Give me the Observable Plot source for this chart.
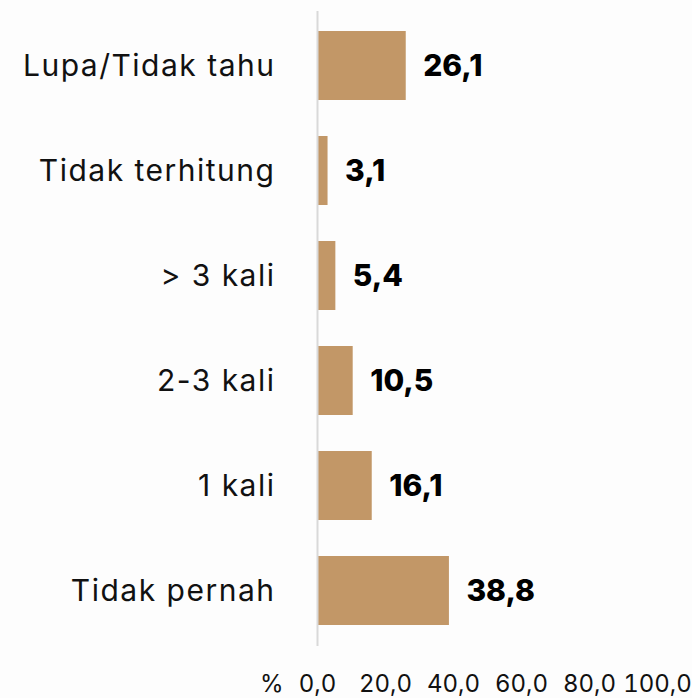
<!DOCTYPE html>
<html>
<head>
<meta charset="utf-8">
<script src="https://cdn.jsdelivr.net/npm/d3@7"></script>
<script src="https://cdn.jsdelivr.net/npm/@observablehq/plot@0.6"></script>
<style>
  html, body { margin: 0; padding: 0; background: #fdfdfd; }
  #chart svg { display: block; background: #fdfdfd; }
  #chart svg g[aria-label="y-axis tick label"] text { letter-spacing: 1.5px; }
</style>
</head>
<body>
<div id="chart"></div>
<script>
const categories = ["Lupa/Tidak tahu", "Tidak terhitung", "> 3 kali", "2-3 kali", "1 kali", "Tidak pernah"];
const values = [26.1, 3.1, 5.4, 10.5, 16.1, 38.8];
const xTicks = [0, 20, 40, 60, 80, 100];
const unitLabel = "%";

const data = categories.map((c, i) => ({category: c, value: values[i]}));
const fmt = d => d.toFixed(1).replace(".", ",");
const font = "Inter, 'Open Sans', sans-serif";

const chart = Plot.plot({
  width: 692,
  height: 698,
  marginLeft: 317,
  marginRight: 35,
  marginTop: 11,
  marginBottom: 52,
  style: {fontFamily: font, color: "#111", background: "#fdfdfd"},
  x: {domain: [0, 100], ticks: xTicks},
  y: {domain: categories, paddingInner: 0.34, paddingOuter: 0.17},
  marks: [
    Plot.barX(data, {x: "value", y: "category", fill: "#C29767"}),
    Plot.ruleX([0], {stroke: "#d9d9d9", strokeWidth: 2}),
    Plot.text(data, {x: "value", y: "category", text: d => fmt(d.value), dx: 17, textAnchor: "start", fontWeight: 800, fontSize: 30, fill: "#000"}),
    Plot.axisY({tickSize: 0, tickPadding: 42, fontSize: 30, label: null}),
    Plot.axisX({tickSize: 0, tickPadding: 28, fontSize: 24, tickFormat: fmt, label: null}),
    Plot.text([unitLabel], {frameAnchor: "bottom-left", text: d => d, textAnchor: "end", lineAnchor: "top", dx: -34, dy: 28, fontSize: 24, fill: "#111"})
  ]
});
document.getElementById("chart").appendChild(chart);
</script>
</body>
</html>
